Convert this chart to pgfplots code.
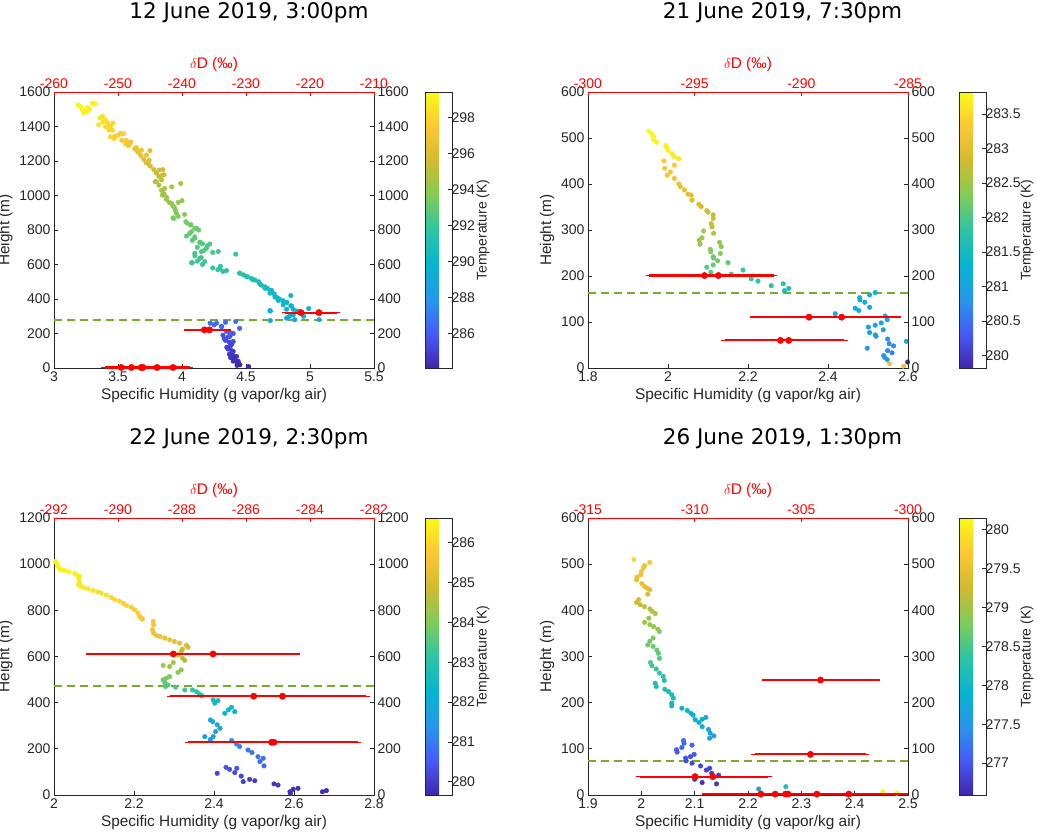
\documentclass[border=0pt]{standalone}
\usepackage{fontspec}
\setmainfont{Liberation Sans}
\newfontfamily\titlefont{DejaVu Sans}
\usepackage{pgfplots}
\pgfplotsset{compat=1.18}
\usepackage{pgfplotstable}

\definecolor{axgray}{rgb}{0.15,0.15,0.15}
\definecolor{dgreen}{rgb}{0.466,0.674,0.188}

\pgfplotsset{
  colormap={parula}{rgb=(0.2422,0.1504,0.6603) rgb=(0.2786,0.3556,0.9694) rgb=(0.1540,0.5902,0.9218) rgb=(0.0297,0.7082,0.8163) rgb=(0.1802,0.7712,0.6350) rgb=(0.5044,0.7993,0.3480) rgb=(0.8185,0.7327,0.1884) rgb=(0.9900,0.7800,0.2100) rgb=(0.9769,0.9839,0.0805)},
  panel/.style={scale only axis, anchor=south west, clip=false,
    axis line style={draw=axgray, line width=0.8bp},
    tick style={axgray, line width=0.8bp}, major tick length=4bp, tick align=inside,
    tick label style={font=\fontsize{14bp}{16bp}\selectfont, text=axgray},
    /pgf/number format/assume math mode=true,
    /pgf/number format/1000 sep={},
    label style={font=\fontsize{15.4bp}{18bp}\selectfont, text=axgray},
  },
  mainax/.style={panel, xtick pos=left, ytick pos=left,
    xlabel={Specific Humidity (g vapor/kg air)}, ylabel={Height (m)},
    colormap name=parula, colorbar},
  cbar/.style={colorbar style={at={(parent axis.north east)}, anchor=north west, xshift=42.5bp,
    scale only axis, width=27bp, height=#1,
    ytick pos=right, yticklabel pos=right, tick align=inside, major tick length=4bp,
    axis line style={draw=axgray, line width=0.8bp}, tick style={axgray, line width=0.8bp},
    yticklabel style={font=\fontsize{14bp}{16bp}\selectfont, text=axgray, xshift=-4bp},
    /pgf/number format/assume math mode=true}},
  topax/.style={panel, axis x line*=top, axis y line=none,
    axis line style={draw=red, line width=0.8bp}, tick style={red, line width=0.8bp},
    tick label style={font=\fontsize{14bp}{16bp}\selectfont, text=red},
    xlabel={$\delta$D (‰)}, xlabel style={font=\fontsize{15.4bp}{18bp}\selectfont, text=red}},
  rightax/.style={panel, axis x line=none, axis y line*=right, ytick pos=right, yticklabel pos=right},
  scat/.style={scatter, only marks, mark=*, mark size=2.3bp, point meta=explicit,
    scatter/use mapped color={draw=mapped color, fill=mapped color}},
  errs/.style={red, only marks, mark=*, mark size=3.2bp, mark options={fill=red, draw=red},
    error bars/x dir=both, error bars/x explicit,
    error bars/error bar style={line width=2.2bp, draw=red},
    error bars/error mark options={mark size=3.5bp, line width=1.4bp, draw=red}},
  gline/.style={dgreen, line width=2bp, dash pattern=on 8bp off 5bp},
}
\newcommand\cblab{\fontsize{14bp}{16bp}\selectfont}

\pgfplotstableread{
x y t
3.19 1525 299.3
3.21 1515 299.3
3.22 1500 299.2
3.24 1490 299.2
3.26 1485 299.1
3.23 1480 299.2
3.28 1500 299.0
3.30 1535 299.1
3.32 1530 299.0
3.26 1510 299.2
3.36 1450 298.6
3.38 1460 298.6
3.40 1440 298.5
3.42 1420 298.3
3.35 1410 298.6
3.44 1400 298.2
3.46 1420 298.1
3.43 1380 298.2
3.44 1340 298.0
3.47 1330 297.8
3.50 1350 297.7
3.52 1360 297.6
3.53 1320 297.5
3.56 1300 297.4
3.58 1290 297.2
3.60 1310 297.1
3.63 1270 296.8
3.66 1250 296.6
3.68 1230 296.5
3.70 1210 296.3
3.72 1190 296.1
3.65 1260 296.7
3.75 1260 296.4
3.74 1180 296.0
3.78 1150 295.6
3.80 1130 295.4
3.82 1110 295.2
3.84 1090 295.0
3.86 1120 295.3
3.85 1150 295.5
3.79 1080 294.9
3.82 1060 294.7
3.84 1030 294.5
3.86 1010 294.4
3.88 990 294.3
3.92 1050 294.6
3.99 1070 294.7
3.90 960 294.1
3.93 940 294.0
3.97 960 294.1
4.00 970 294.1
3.95 910 293.8
3.97 880 293.6
3.93 870 293.5
4.02 890 293.6
4.04 840 293.4
4.07 830 293.3
4.10 810 293.2
4.13 800 293.1
4.06 780 293.0
4.10 760 292.9
4.08 740 292.8
4.14 730 292.7
4.12 700 292.6
4.16 720 292.6
4.20 710 292.5
4.17 680 292.5
4.24 670 292.4
4.15 640 292.3
4.12 620 292.2
4.08 610 292.2
4.16 600 292.1
4.10 650 292.3
4.42 660 292.0
4.24 580 291.8
4.28 570 291.7
4.32 560 291.6
4.30 590 291.8
4.45 550 291.4
4.48 540 291.3
4.51 530 291.2
4.54 520 291.1
4.57 510 291.0
4.60 500 290.9
4.62 480 290.8
4.65 470 290.7
4.67 460 290.6
4.70 450 290.5
4.72 430 290.4
4.74 410 290.3
4.76 400 290.2
4.79 390 290.1
4.82 380 290.0
4.85 360 289.8
4.87 340 289.6
4.90 330 289.4
4.92 320 289.3
4.84 300 289.2
4.86 310 289.2
4.82 290 288.9
4.99 345 289.5
4.85 420 290.1
4.69 330 289.5
4.69 275 288.8
4.88 280 288.9
5.07 280 289.0
4.95 300 289.2
4.22 260 286.5
4.25 250 286.4
4.31 240 286.2
4.34 265 286.4
4.42 270 286.6
4.45 230 286.3
4.37 210 286.0
4.40 200 285.8
4.32 190 285.7
4.36 180 285.6
4.34 160 285.4
4.37 150 285.3
4.38 130 285.1
4.35 120 285.0
4.39 100 284.9
4.37 80 284.7
4.40 70 284.6
4.38 60 284.6
4.41 50 284.5
4.40 40 284.5
4.43 30 284.4
4.45 20 284.3
4.43 15 284.3
4.52 8 284.2
4.39 90 284.8
4.36 110 285.0
4.39 140 285.2
4.33 170 285.5
3.383 1426 298.4
3.404 1398 298.2
3.456 1378 298.0
3.474 1344 297.9
3.545 1359 297.7
3.566 1320 297.5
3.592 1297 297.3
3.644 1278 297.0
3.683 1263 296.9
3.722 1234 296.6
3.743 1205 296.3
3.753 1170 296.0
3.821 1147 295.8
3.847 1118 295.5
3.800 1080 295.1
3.865 1041 294.8
3.847 1002 294.5
3.879 977 294.3
3.918 954 294.1
3.944 925 293.9
3.957 896 293.7
3.936 867 293.5
4.030 848 293.4
4.066 829 293.3
4.113 810 293.2
4.074 790 293.1
4.035 765 293.0
4.100 752 292.9
4.139 727 292.7
4.217 719 292.6
4.190 694 292.5
4.152 675 292.4
4.100 665 292.3
4.139 636 292.2
4.178 617 292.1
4.074 611 292.0
4.283 675 292.2
4.296 578 291.8
4.348 565 291.7
4.452 549 291.4
4.504 530 291.2
4.556 511 291.0
4.608 488 290.8
4.647 463 290.6
4.687 434 290.4
4.726 411 290.2
4.752 391 290.0
4.791 366 289.8
4.817 341 289.6
4.856 360 289.7
4.908 328 289.4
4.869 308 289.2
4.817 289 289.0
4.687 333 289.5
4.270 260 286.6
4.309 241 286.4
4.348 212 286.1
4.374 183 285.8
4.400 154 285.5
4.374 125 285.2
4.400 96 284.9
4.426 67 284.6
4.439 39 284.4
4.452 19 284.3
}\scatA

\pgfplotstableread{
x y e
-236.5 221 2.6
-235.7 221 2.75
-221.4 321 2.5
-218.6 321 2.75
-249.5 3 2.6
-247.9 3 2.6
-246.4 3 2.6
-246.1 3 2.6
-243.9 3 2.6
-241.4 3 2.6
}\errA

\pgfplotstableread{
x y t
1.952 514.7 283.82
1.960 508 283.8
1.964 502 283.8
1.963 497 283.78
1.971 491 283.75
1.995 484 283.75
1.997 479 283.72
2.000 473 283.7
2.010 466 283.7
2.016 459 283.65
2.027 455 283.6
2.016 441 283.3
1.990 450 283.35
1.992 434 283.3
1.998 419 283.25
2.006 426 283.25
2.016 412 283.2
2.027 400 283.15
2.031 394 283.1
2.041 387 283.05
2.050 378 283.0
2.058 376 283.0
2.060 365 282.95
2.077 356 282.9
2.083 351 282.88
2.097 342 282.85
2.100 339 282.85
2.113 333 282.8
2.113 325 282.78
2.108 314 282.75
2.110 307 282.72
2.114 293 282.65
2.089 298 282.6
2.085 283 282.5
2.078 278 282.5
2.080 269 282.45
2.129 273 282.45
2.133 264 282.4
2.131 249 282.35
2.106 258 282.35
2.107 253 282.3
2.113 242 282.25
2.114 239 282.2
2.124 233 282.2
2.097 219 282.05
2.113 224 282.1
2.150 229 282.1
2.107 208 281.95
2.158 204 281.9
2.1875 213 281.9
2.208 194 281.8
2.225 189 281.75
2.258 179 281.7
2.288 183 281.7
2.291 168 281.6
2.302 173 281.6
2.518 164 281.3
2.504 159 281.25
2.479 153 281.2
2.480 148 281.2
2.492 143 281.15
2.504 132 281.15
2.468 130 281.1
2.477 125 281.1
2.418 118 281.2
2.543 113 281.2
2.548 105 281.1
2.533 98 281.05
2.518 93 281.0
2.501 89 281.0
2.538 83 280.95
2.504 77 280.95
2.518 72 280.9
2.520 69 280.9
2.549 63 280.8
2.553 53 280.75
2.564 48 280.7
2.498 43 280.9
2.549 38 280.7
2.560 33 280.65
2.539 27 280.8
2.542 23 280.8
2.548 18 280.85
2.596 58 281.0
2.599 13 279.9
2.554 9 283.2
2.589 4 283.2
}\scatB

\pgfplotstableread{
x y e
-294.54 201 2.6
-293.89 201 2.6
-289.64 110.5 2.6
-288.11 110.5 2.6
-290.98 60 2.6
-290.59 60 2.6
}\errB

\pgfplotstableread{
x y t
2.004 1012 286.6
2.0075 1002 286.6
2.010 990 286.55
2.014 980 286.55
2.018 976 286.5
2.027 972 286.5
2.037 967 286.5
2.052 959 286.45
2.057 953 286.45
2.064 947 286.4
2.062 935 286.4
2.064 921 286.35
2.061 911 286.3
2.067 904 286.3
2.075 898 286.3
2.085 893 286.25
2.098 886 286.2
2.110 880 286.2
2.118 875 286.15
2.131 866 286.1
2.143 856 286.05
2.152 846 286.0
2.163 840 286.0
2.173 831 285.95
2.181 821 285.9
2.193 814 285.9
2.202 802 285.85
2.210 788 285.8
2.214 773 285.75
2.221 762 285.7
2.219 766 285.7
2.248 752 285.65
2.249 737 285.6
2.246 716 285.55
2.249 701 285.5
2.256 691 285.45
2.265 687 285.4
2.277 680 285.35
2.289 672 285.3
2.301 665 285.25
2.314 658 285.2
2.331 649 285.1
2.335 640 285.0
2.321 632 284.95
2.318 622 284.8
2.310 607 284.7
2.321 593 284.6
2.327 583 284.5
2.298 574 284.45
2.289 557 284.3
2.273 561 284.3
2.318 542 284.2
2.310 531 284.1
2.289 513 284.0
2.281 506 283.9
2.273 499 283.85
2.277 487 283.7
2.285 477 283.6
2.279 470 283.5
2.304 467 283.4
2.327 455 283.3
2.346 455 283.2
2.356 448 283.1
2.363 438 283.0
2.369 431 282.9
2.398 412 282.6
2.402 398 282.5
2.410 409 282.55
2.436 369 282.3
2.444 380 282.4
2.452 361 282.25
2.427 354 282.2
2.391 325 281.95
2.397 318 281.9
2.408 304 281.85
2.415 289 281.8
2.404 275 281.7
2.398 253 281.6
2.377 253 281.55
2.391 241 281.5
2.444 236 281.3
2.456 221 281.2
2.464 210 281.1
2.485 195 281.0
2.495 184 280.95
2.510 166 280.9
2.523 159 280.85
2.515 145 280.8
2.525 126 280.7
2.408 94 280.2
2.430 120 280.4
2.439 111 280.35
2.452 97 280.25
2.457 116 280.4
2.468 82 280.2
2.473 58 280.05
2.489 68 280.1
2.502 62 280.05
2.550 48 279.95
2.560 43 279.95
2.591 7 279.8
2.598 25 279.85
2.610 29 279.85
2.590 14 279.8
2.671 14 279.8
2.681 19 279.8
}\scatC

\pgfplotstableread{
x y e
-288.27 611 2.61
-287.03 611 2.61
-285.76 428 2.61
-284.86 428 2.61
-285.2 228.5 2.61
-285.125 228.5 2.61
}\errC

\pgfplotstableread{
x y t
1.986 510 279.85
2.016 504 279.65
2.006 497 279.6
2.004 492 279.6
2.000 484 279.6
1.999 477 279.55
1.992 472 279.55
1.991 466 279.5
2.001 458 279.5
2.006 452 279.5
2.011 448 279.45
2.016 445 279.45
2.012 435 279.4
1.995 423 279.3
1.991 417 279.25
1.998 412 279.2
2.006 408 279.15
2.016 403 279.1
2.020 398 279.1
2.026 393 279.05
2.014 383 279.0
2.006 374 278.95
2.016 369 278.95
2.023 365 278.9
2.031 359 278.9
2.034 354 278.85
2.022 340 278.8
2.016 333 278.75
2.012 325 278.75
2.022 322 278.7
2.029 314 278.7
2.032 307 278.65
2.034 296 278.6
2.017 287 278.5
2.020 280 278.45
2.028 273 278.4
2.034 264 278.35
2.041 257 278.3
2.043 248 278.25
2.026 242 278.2
2.028 235 278.2
2.044 229 278.15
2.051 224 278.15
2.057 217 278.1
2.060 210 278.1
2.057 199 278.05
2.057 193 278.0
2.076 188 277.95
2.086 183 277.95
2.093 177 277.9
2.097 173 277.9
2.101 163 277.85
2.108 157 277.8
2.114 148 277.75
2.121 168 277.85
2.114 164 277.85
2.126 142 277.7
2.129 134 277.7
2.128 123 277.65
2.136 128 277.65
2.079 118 277.2
2.080 112 277.15
2.076 103 277.1
2.095 108 277.1
2.066 98 277.05
2.067 93 277.0
2.083 80 276.95
2.084 74 276.9
2.092 83 276.95
2.099 88 277.0
2.095 69 276.9
2.111 63 276.85
2.122 54 276.85
2.128 58 276.85
2.132 47 276.8
2.145 43 276.8
2.141 24 276.75
2.100 34 276.75
2.114 27 276.7
2.220 13 277.5
2.271 18 278.2
2.453 7 280.1
2.479 4 280.1
}\scatD

\pgfplotstableread{
x y e
-304.1 249 2.6
-304.575 88 2.6
-309.98 39.8 2.6
-309.15 39.8 2.6
-306.9 2 2.6
-306.225 2 2.6
-305.735 2 2.6
-305.625 2 2.6
-304.275 2 2.6
-302.775 2 2.6
}\errD

\begin{document}
\begin{tikzpicture}
\path[use as bounding box] (0,0) rectangle (1037bp,836bp);

% ---------- Panel 1 ----------
\begin{axis}[mainax, cbar=276bp, at={(54bp,468bp)}, width=320bp, height=276bp,
  xmin=3, xmax=5.5, ymin=0, ymax=1600,
  xtick={3,3.5,4,4.5,5,5.5}, ytick={0,200,...,1600},
  point meta min=284.1, point meta max=299.4,
  colorbar style={ytick={286,288,...,298}}]
  \addplot[scat] table[x=x, y=y, meta=t] {\scatA};
  \addplot[gline] coordinates {(3,275.7) (5.5,275.7)};
\end{axis}
\begin{axis}[rightax, at={(54bp,468bp)}, width=320bp, height=276bp,
  xmin=3, xmax=5.5, ymin=0, ymax=1600, ytick={0,200,...,1600}]
\end{axis}
\begin{axis}[topax, at={(54bp,468bp)}, width=320bp, height=276bp,
  xmin=-260, xmax=-210, ymin=0, ymax=1600, xtick={-260,-250,...,-210}]
  \addplot[errs] table[x=x, y=y, x error=e] {\errA};
\end{axis}
\node[font=\titlefont\fontsize{21.5bp}{24bp}\selectfont, anchor=base] at (249bp,817.7bp) {12 June 2019, 3:00pm};
\node[font=\cblab, text=axgray, rotate=90] at (483bp,606bp) {Temperature (K)};

% ---------- Panel 2 ----------
\begin{axis}[mainax, cbar=276bp, at={(588bp,468bp)}, width=320bp, height=276bp,
  xmin=1.8, xmax=2.6, ymin=0, ymax=600,
  xtick={1.8,2,2.2,2.4,2.6}, ytick={0,100,...,600},
  point meta min=279.82, point meta max=283.82,
  colorbar style={ytick={280,280.5,281,281.5,282,282.5,283,283.5}}]
  \addplot[scat] table[x=x, y=y, meta=t] {\scatB};
  \addplot[gline] coordinates {(1.8,163.4) (2.6,163.4)};
\end{axis}
\begin{axis}[rightax, at={(588bp,468bp)}, width=320bp, height=276bp,
  xmin=1.8, xmax=2.6, ymin=0, ymax=600, ytick={0,100,...,600}]
\end{axis}
\begin{axis}[topax, at={(588bp,468bp)}, width=320bp, height=276bp,
  xmin=-300, xmax=-285, ymin=0, ymax=600, xtick={-300,-295,-290,-285}]
  \addplot[errs] table[x=x, y=y, x error=e] {\errB};
\end{axis}
\node[font=\titlefont\fontsize{21.5bp}{24bp}\selectfont, anchor=base] at (782.5bp,817.7bp) {21 June 2019, 7:30pm};
\node[font=\cblab, text=axgray, rotate=90] at (1027bp,606bp) {Temperature (K)};

% ---------- Panel 3 ----------
\begin{axis}[mainax, cbar=277bp, at={(54bp,41bp)}, width=320bp, height=277bp,
  xmin=2, xmax=2.8, ymin=0, ymax=1200,
  xtick={2,2.2,2.4,2.6,2.8}, ytick={0,200,...,1200},
  point meta min=279.67, point meta max=286.62,
  colorbar style={ytick={280,281,...,286}}]
  \addplot[scat] table[x=x, y=y, meta=t] {\scatC};
  \addplot[gline] coordinates {(2,474) (2.8,474)};
\end{axis}
\begin{axis}[rightax, at={(54bp,41bp)}, width=320bp, height=277bp,
  xmin=2, xmax=2.8, ymin=0, ymax=1200, ytick={0,200,...,1200}]
\end{axis}
\begin{axis}[topax, at={(54bp,41bp)}, width=320bp, height=277bp,
  xmin=-292, xmax=-282, ymin=0, ymax=1200, xtick={-292,-290,...,-282}]
  \addplot[errs] table[x=x, y=y, x error=e] {\errC};
\end{axis}
\node[font=\titlefont\fontsize{21.5bp}{24bp}\selectfont, anchor=base] at (249bp,391.7bp) {22 June 2019, 2:30pm};
\node[font=\cblab, text=axgray, rotate=90] at (483bp,179.5bp) {Temperature (K)};

% ---------- Panel 4 ----------
\begin{axis}[mainax, cbar=277bp, at={(588bp,41bp)}, width=320bp, height=277bp,
  xmin=1.9, xmax=2.5, ymin=0, ymax=600,
  xtick={1.9,2,2.1,2.2,2.3,2.4,2.5}, ytick={0,100,...,600},
  point meta min=276.59, point meta max=280.15,
  colorbar style={ytick={277,277.5,278,278.5,279,279.5,280}}]
  \addplot[scat] table[x=x, y=y, meta=t] {\scatD};
  \addplot[gline] coordinates {(1.9,73.7) (2.5,73.7)};
\end{axis}
\begin{axis}[rightax, at={(588bp,41bp)}, width=320bp, height=277bp,
  xmin=1.9, xmax=2.5, ymin=0, ymax=600, ytick={0,100,...,600}]
\end{axis}
\begin{axis}[topax, at={(588bp,41bp)}, width=320bp, height=277bp,
  xmin=-315, xmax=-300, ymin=0, ymax=600, xtick={-315,-310,-305,-300}]
  \addplot[errs] table[x=x, y=y, x error=e] {\errD};
\end{axis}
\node[font=\titlefont\fontsize{21.5bp}{24bp}\selectfont, anchor=base] at (782.5bp,391.7bp) {26 June 2019, 1:30pm};
\node[font=\cblab, text=axgray, rotate=90] at (1027bp,179.5bp) {Temperature (K)};

\end{tikzpicture}
\end{document}
